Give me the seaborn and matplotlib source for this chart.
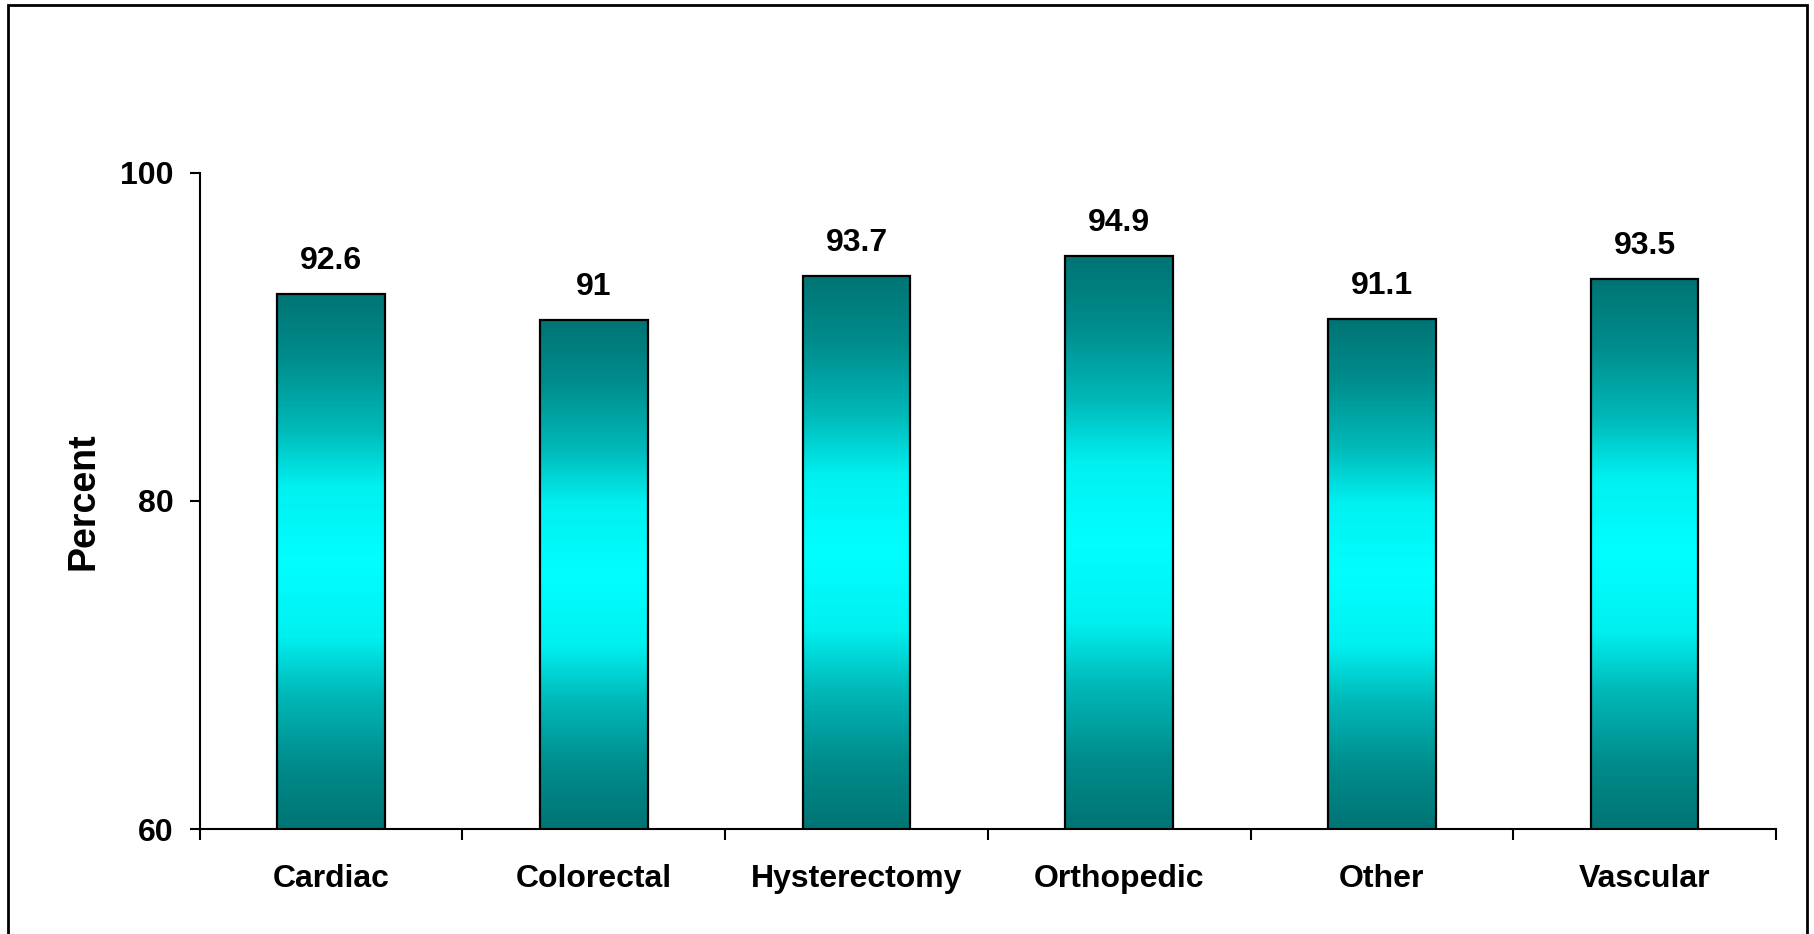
import numpy as np
import pandas as pd
import matplotlib
matplotlib.use("Agg")
import matplotlib.pyplot as plt
import seaborn as sns
from matplotlib.colors import LinearSegmentedColormap
from matplotlib.patches import Rectangle

categories = ["Cardiac", "Colorectal", "Hysterectomy", "Orthopedic", "Other", "Vascular"]
percent = [92.6, 91, 93.7, 94.9, 91.1, 93.5]
y_ticks = [60, 80, 100]

df = pd.DataFrame({"category": categories, "percent": percent})

sns.set_style("white")
plt.rcParams["font.family"] = ["Liberation Sans", "DejaVu Sans"]
plt.rcParams["font.weight"] = "bold"
plt.rcParams["text.color"] = "black"
plt.rcParams["axes.labelcolor"] = "black"
plt.rcParams["xtick.color"] = "black"
plt.rcParams["ytick.color"] = "black"

fig = plt.figure(figsize=(18.15, 9.34), dpi=100)
ax = fig.add_axes([0.110, 0.1124, 0.8685, 0.7029])

sns.barplot(data=df, x="category", y="percent", ax=ax, width=0.41,
            facecolor="none", edgecolor="black", linewidth=1.6, zorder=3)

# gradient fill: teal at top/bottom, cyan in the middle
cmap = LinearSegmentedColormap.from_list(
    "tealcyan", [(0.0, "#007474"), (0.12, "#008c8c"), (0.25, "#00b8b8"),
                 (0.36, "#00f0f0"), (0.5, "#00ffff"), (0.64, "#00f0f0"),
                 (0.75, "#00b8b8"), (0.88, "#008c8c"), (1.0, "#007474")])
grad = np.linspace(0, 1, 256).reshape(-1, 1)
for p in ax.patches:
    x0, w = p.get_x(), p.get_width()
    top = p.get_height()
    ax.imshow(grad, cmap=cmap, aspect="auto", origin="lower",
              extent=[x0, x0 + w, 60, top], zorder=2)
ax.set_xlim(-0.5, len(categories) - 0.5)
ax.set_ylim(60, 100)

for i, v in enumerate(percent):
    ax.annotate(f"{v:g}", (i, v), xytext=(0, 13), textcoords="offset points",
                ha="center", va="bottom", fontsize=23, fontweight="bold")

sns.despine(ax=ax)
for s in ["left", "bottom"]:
    ax.spines[s].set_color("black")
    ax.spines[s].set_linewidth(1.5)

ax.set_yticks(y_ticks)
ax.set_yticklabels([str(t) for t in y_ticks], fontsize=23, fontweight="bold")
ax.tick_params(axis="y", direction="out", length=7, width=1.5, pad=12, left=True)

ax.set_xticks(np.arange(-0.5, len(categories)), minor=True)
ax.set_xticks(range(len(categories)))
ax.set_xticklabels(categories, fontsize=23, fontweight="bold")
ax.tick_params(axis="x", which="major", length=0, pad=25)
ax.tick_params(axis="x", which="minor", direction="out", length=8, width=1.5, bottom=True)

ax.set_xlabel("")
ax.set_ylabel("Percent", fontsize=27, fontweight="bold", labelpad=13)

fig.patches.append(Rectangle((8 / 1815, -0.1), 1799 / 1815, 1.1 - 5 / 934,
                             transform=fig.transFigure, fill=False,
                             edgecolor="black", linewidth=2))

fig.savefig("out.png", dpi=100)
